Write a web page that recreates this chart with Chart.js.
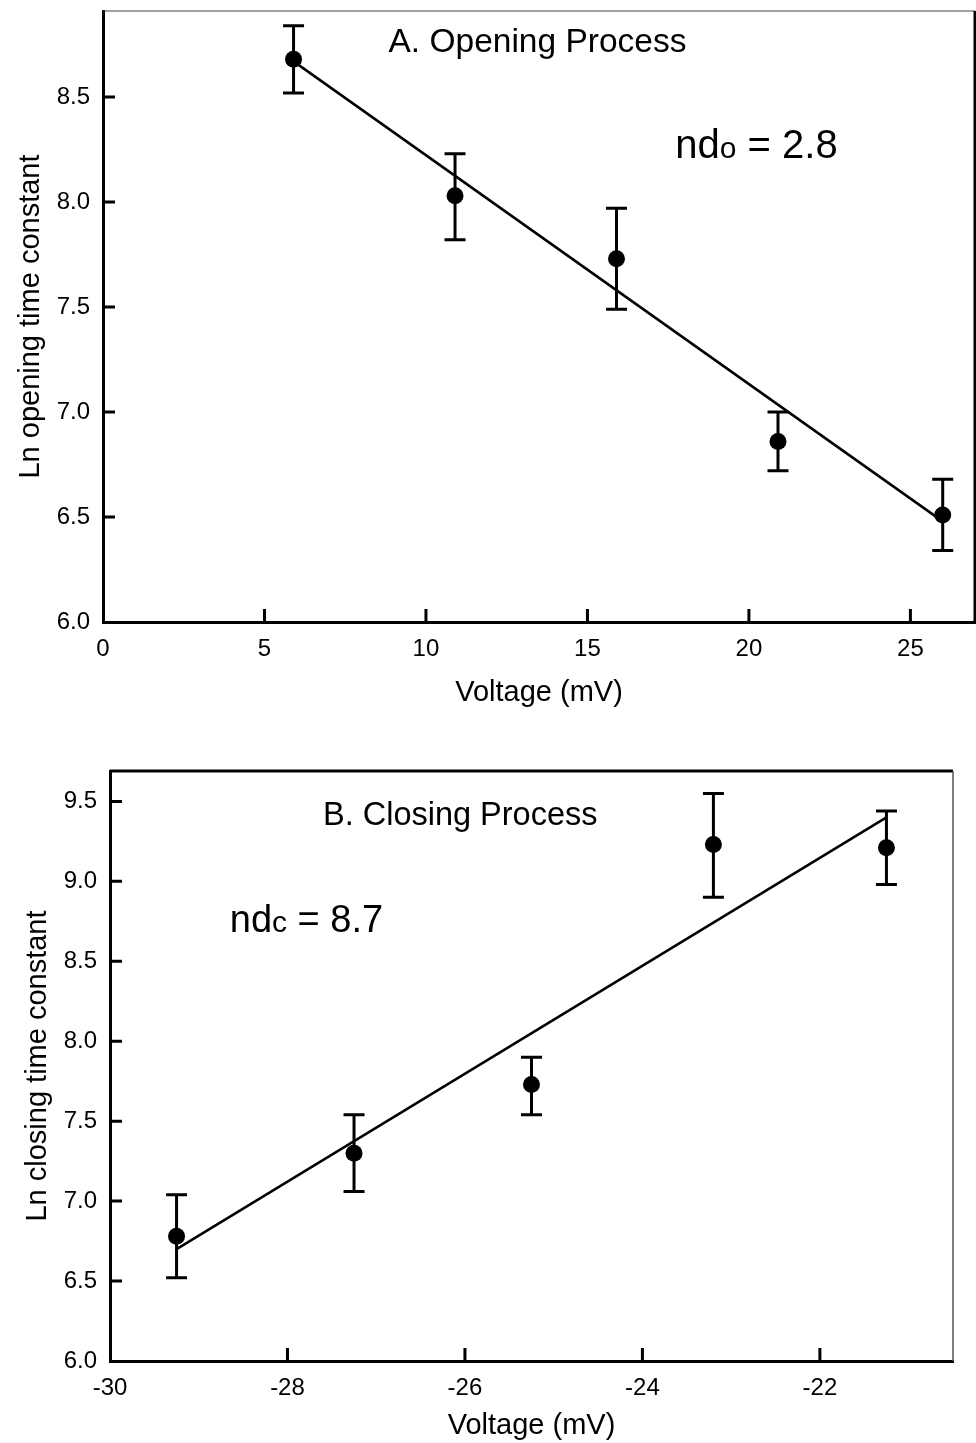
<!DOCTYPE html>
<html>
<head>
<meta charset="utf-8">
<script src="https://cdn.jsdelivr.net/npm/chart.js@4.4.0/dist/chart.umd.min.js"></script>
<style>
  body { margin: 0; background: #fff; }
  #wrapA { position: absolute; left: 0; top: 0; }
  #wrapB { position: absolute; left: 0; top: 715px; }
</style>
</head>
<body>
<div id="wrapA"><canvas id="chartA" width="976" height="715"></canvas></div>
<div id="wrapB"><canvas id="chartB" width="976" height="728"></canvas></div>
<script>
// A. opening process
var openVoltage = [5.9, 10.9, 15.9, 20.9, 26.0];
var openLn      = [8.68, 8.03, 7.73, 6.86, 6.51];
var openErrHigh = [8.84, 8.23, 7.97, 7.00, 6.68];
var openErrLow  = [8.52, 7.82, 7.49, 6.72, 6.34];
var openFitX = [5.9, 25.9];
var openFitY = [8.67, 6.49];

// B. closing process
var closeVoltage = [-29.25, -27.25, -25.25, -23.2, -21.25];
var closeLn      = [6.78, 7.30, 7.73, 9.23, 9.21];
var closeErrHigh = [7.04, 7.54, 7.90, 9.55, 9.44];
var closeErrLow  = [6.52, 7.06, 7.54, 8.90, 8.98];
var closeFitX = [-29.25, -21.25];
var closeFitY = [6.70, 9.40];

var FONT = "'Liberation Sans', Arial, sans-serif";

function toPoints(xs, ys) {
    return xs.map(function (x, i) { return { x: x, y: ys[i] }; });
}

// drop the extra room chart.js keeps for the outer tick labels
function noPad(s) {
    s.paddingTop = 0; s.paddingBottom = 0;
    s.paddingLeft = 0; s.paddingRight = 0;
}

function makeChart(id, p) {
    var ctx = document.getElementById(id).getContext('2d');

    // error bars, frame, inward ticks and the labels inside the plot
    var extras = {
        id: 'extras',
        beforeDatasetsDraw: function (chart) {
            var c = chart.ctx, xs = chart.scales.x, ys = chart.scales.y;
            c.save();
            c.strokeStyle = '#000';
            c.lineWidth = 3;
            for (var i = 0; i < p.x.length; i++) {
                var px = xs.getPixelForValue(p.x[i]);
                var hi = ys.getPixelForValue(p.hi[i]);
                var lo = ys.getPixelForValue(p.lo[i]);
                c.beginPath();
                c.moveTo(px, hi); c.lineTo(px, lo);
                c.moveTo(px - 10.5, hi); c.lineTo(px + 10.5, hi);
                c.moveTo(px - 10.5, lo); c.lineTo(px + 10.5, lo);
                c.stroke();
            }
            c.restore();
        },
        afterDraw: function (chart) {
            var c = chart.ctx, a = chart.chartArea;
            var xs = chart.scales.x, ys = chart.scales.y;
            c.save();
            // top border
            c.strokeStyle = p.topColor;
            c.lineWidth = p.topWidth;
            c.beginPath();
            c.moveTo(a.left, a.top); c.lineTo(a.right, a.top);
            c.stroke();
            // right border
            c.strokeStyle = p.rightColor;
            c.lineWidth = p.rightWidth;
            c.beginPath();
            c.moveTo(a.right, a.top); c.lineTo(a.right, a.bottom);
            c.stroke();
            // ticks pointing into the plot
            c.strokeStyle = '#000';
            c.lineWidth = 3;
            c.beginPath();
            xs.ticks.forEach(function (t) {
                if (t.value === xs.min) return;
                var px = xs.getPixelForValue(t.value);
                c.moveTo(px, a.bottom); c.lineTo(px, a.bottom - 13);
            });
            ys.ticks.forEach(function (t) {
                if (t.value === ys.min) return;
                var py = ys.getPixelForValue(t.value);
                c.moveTo(a.left, py); c.lineTo(a.left + 12, py);
            });
            c.stroke();
            // texts
            c.fillStyle = '#000';
            c.textBaseline = 'alphabetic';
            c.textAlign = 'left';
            p.texts.forEach(function (t) {
                var x = xs.getPixelForValue(t.x);
                var y = ys.getPixelForValue(t.y);
                t.parts.forEach(function (part) {
                    c.font = part[1] + 'px ' + FONT;
                    c.fillText(part[0], x, y);
                    x += c.measureText(part[0]).width;
                });
            });
            c.restore();
        }
    };

    return new Chart(ctx, {
        type: 'scatter',
        data: {
            datasets: [
                {
                    data: toPoints(p.x, p.y),
                    pointRadius: 8.5,
                    pointBackgroundColor: '#000',
                    pointBorderWidth: 0,
                    showLine: false
                },
                {
                    data: toPoints(p.fitX, p.fitY),
                    showLine: true,
                    borderColor: '#000',
                    borderWidth: 2.5,
                    pointRadius: 0,
                    fill: false
                }
            ]
        },
        options: {
            responsive: false,
            animation: false,
            layout: { padding: p.padding, autoPadding: false },
            plugins: { legend: { display: false }, tooltip: { enabled: false } },
            scales: {
                x: {
                    type: 'linear',
                    position: 'bottom',
                    min: p.xMin,
                    max: p.xMax,
                    grid: { display: false, drawTicks: false },
                    border: { display: true, color: '#000', width: 3 },
                    ticks: {
                        stepSize: p.xStep,
                        includeBounds: false,
                        padding: 13,
                        color: '#000',
                        font: { family: FONT, size: 24 },
                        callback: function (v) { return String(v); }
                    },
                    title: {
                        display: true,
                        text: 'Voltage (mV)',
                        color: '#000',
                        font: { family: FONT, size: 29 },
                        padding: { top: 0, bottom: p.xTitlePad }
                    },
                    afterFit: function (s) { s.height = p.xHeight; noPad(s); }
                },
                y: {
                    type: 'linear',
                    min: 6,
                    max: p.yMax,
                    grid: { display: false, drawTicks: false },
                    border: { display: true, color: '#000', width: 3 },
                    ticks: {
                        stepSize: 0.5,
                        includeBounds: false,
                        padding: 13,
                        color: '#000',
                        font: { family: FONT, size: 24 },
                        callback: function (v) { return v.toFixed(1); }
                    },
                    title: {
                        display: true,
                        text: p.yTitle,
                        color: '#000',
                        font: { family: FONT, size: 29 },
                        padding: { top: p.yTitlePad, bottom: 0 }
                    },
                    afterFit: function (s) { s.width = p.yWidth; noPad(s); }
                }
            }
        },
        plugins: [extras]
    });
}

makeChart('chartA', {
    x: openVoltage, y: openLn, hi: openErrHigh, lo: openErrLow,
    fitX: openFitX, fitY: openFitY,
    xMin: 0, xMax: 27, xStep: 5, yMax: 8.91,
    yTitle: 'Ln opening time constant',
    padding: { top: 11, right: 1, left: 0, bottom: 0 },
    yWidth: 103, xHeight: 93, yTitlePad: 14, xTitlePad: 5,
    topColor: '#444', topWidth: 1.2, rightColor: '#000', rightWidth: 3,
    texts: [
        { x: 8.84, y: 8.715, parts: [['A. Opening Process', 33.5]] },
        { x: 17.72, y: 8.21, parts: [['nd', 40], ['o', 30], [' = 2.8', 40]] }
    ]
});

makeChart('chartB', {
    x: closeVoltage, y: closeLn, hi: closeErrHigh, lo: closeErrLow,
    fitX: closeFitX, fitY: closeFitY,
    xMin: -30, xMax: -20.5, xStep: 2, yMax: 9.69,
    yTitle: 'Ln closing time constant',
    padding: { top: 56, right: 23, left: 0, bottom: 0 },
    yWidth: 110, xHeight: 82, yTitlePad: 21, xTitlePad: 0,
    topColor: '#000', topWidth: 3, rightColor: '#555', rightWidth: 1.5,
    texts: [
        { x: -27.6, y: 9.35, parts: [['B. Closing Process', 32.5]] },
        { x: -28.65, y: 8.686, parts: [['nd', 38], ['c', 30], [' = 8.7', 38]] }
    ]
});
</script>
</body>
</html>
